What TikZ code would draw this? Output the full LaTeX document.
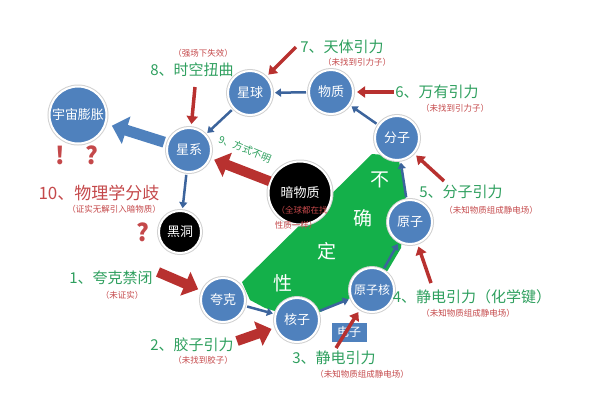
\documentclass[tikz,border=0pt]{standalone}
\usepackage{fontspec}
\setmainfont{Noto Sans CJK SC}
\usetikzlibrary{arrows.meta}
\definecolor{ballblue}{HTML}{4F81BD}
\definecolor{linkblue}{HTML}{3C649C}
\definecolor{arrowred}{HTML}{B8312F}
\definecolor{notered}{HTML}{C4484A}
\definecolor{taggreen}{HTML}{2E9F5E}
\definecolor{fieldgreen}{HTML}{14B04A}
\newcommand{\setfs}[1]{\fontsize{#1}{#1}\selectfont}

\begin{document}
\begin{tikzpicture}[x=1pt, y=-1pt,
        ball/.style={circle, fill=ballblue, draw=white, line width=2pt, preaction={draw=black!18, line width=4pt}, text=white, minimum size=44pt, inner sep=0pt, font=\setfs{13}},
        darkball/.style={ball, fill=black},
        tag/.style={text=taggreen, font=\setfs{15}, inner sep=0pt},
        note/.style={text=notered, font=\setfs{8.5}, inner sep=0pt},
        fieldtext/.style={text=white, font=\setfs{19}, inner sep=0pt},
        bluelink/.style={draw=linkblue, line width=2.5pt, -{Triangle[length=6pt,width=8pt]}, shorten >=2pt, shorten <=2pt},
        redlink/.style={draw=arrowred, line width=3.5pt, -{Triangle[length=8pt,width=11pt]}, shorten >=3pt},
        fatred/.style={draw=arrowred, line width=10pt, -{Triangle[length=14pt,width=25pt]}, shorten >=4pt},
        fatblue/.style={draw=ballblue, line width=11pt, -{Triangle[length=15pt,width=28pt]}, shorten >=6pt, shorten <=3pt}]
        \useasboundingbox (0,0) rectangle (600,400);
        \fill[fieldgreen] (242,282) -- (372,154) -- (398,156) -- (406,195) -- (401,248) -- (388,270) -- (372,290) -- (340,302) -- (320,312) -- (297,318) -- (265,308) -- (250,300) -- cycle;
        \node[fieldtext] (bu) at (380,180) {不};
        \node[fieldtext] (que) at (363,218) {确};
        \node[fieldtext] (ding) at (327,251) {定};
        \node[fieldtext] (xing) at (283,283) {性};

        \node[ball, minimum size=57pt] (yuzhou) at (78,115) {宇宙膨胀};
        \node[ball] (xingqiu) at (250,93) {星球};
        \node[ball] (wuzhi) at (331,92) {物质};
        \node[ball] (fenzi) at (397,138) {分子};
        \node[ball] (xingxi) at (189,150) {星系};
        \node[ball] (yuanzi) at (410,222) {原子};
        \node[ball, font=\setfs{12}] (yuanzihe) at (372,290) {原子核};
        \node[ball] (hezi) at (297,320) {核子};
        \node[ball] (kuake) at (223,300) {夸克};
        \node[darkball, minimum size=63pt] (anwu) at (300,193) {暗物质};
        \node[darkball, minimum size=42pt] (heidong) at (180,232) {黑洞};
        \node[fill=ballblue, text=white, minimum width=35pt, minimum height=19pt, inner sep=0pt, font=\setfs{12}] (dianzi) at (349,332) {电子};

        \draw[bluelink] (wuzhi) -- (xingqiu);
        \draw[bluelink] (fenzi) -- (wuzhi);
        \draw[bluelink] (yuanzi) -- (fenzi);
        \draw[bluelink] (yuanzihe) -- (yuanzi);
        \draw[bluelink] (hezi) -- (yuanzihe);
        \draw[bluelink] (kuake) -- (hezi);
        \draw[bluelink] (xingqiu) -- (xingxi);
        \draw[bluelink] (xingxi) -- (heidong);
        \draw[fatblue] (xingxi) -- (yuzhou);

        \coordinate (from1) at (158,272);
        \coordinate (from2) at (237,341);
        \coordinate (from3) at (336,348);
        \coordinate (from4) at (431,283);
        \coordinate (from5) at (444,181);
        \coordinate (from6) at (394,92);
        \coordinate (from7) at (296,47);
        \coordinate (from8) at (195,87);
        \draw[fatred] (from1) -- (kuake);
        \draw[fatred] (from2) -- (hezi);
        \draw[redlink] (from3) -- (yuanzihe);
        \draw[redlink] (from4) -- (yuanzi);
        \draw[redlink] (from5) -- (fenzi);
        \draw[redlink] (from6) -- (wuzhi);
        \draw[redlink] (from7) -- (xingqiu);
        \draw[redlink] (from8) -- (xingxi);
        \draw[fatred] (anwu) -- (xingxi);

        \node[tag] (t1) at (111,278) {1、夸克禁闭};
        \node[note] (n1) at (122,295) {（未证实）};
        \node[tag] (t2) at (192,345) {2、胶子引力};
        \node[note] (n2) at (203,360) {（未找到胶子）};
        \node[tag] (t3) at (334,358) {3、静电引力};
        \node[note] (n3) at (362,374) {（未知物质组成静电场）};
        \node[tag] (t4) at (472,297) {4、静电引力（化学键）};
        \node[note] (n4) at (468,313) {（未知物质组成静电场）};
        \node[tag] (t5) at (461,192) {5、分子引力};
        \node[note] (n5) at (491,210) {（未知物质组成静电场）};
        \node[tag] (t6) at (437,92) {6、万有引力};
        \node[note] (n6) at (455,108) {（未找到引力子）};
        \node[tag] (t7) at (342,47) {7、天体引力};
        \node[note] (n7) at (357,62) {（未找到引力子）};
        \node[tag] (t8) at (192,70) {8、时空扭曲};
        \node[note] (n8) at (203,53) {（强场下失效）};
        \node[tag, font=\setfs{10}, rotate=-22] (t9) at (245,149) {9、方式不明};
        \node[note, font=\setfs{17}] (t10) at (99,193) {10、物理学分歧};
        \node[note] (n10) at (114,209) {（证实无解引入暗物质）};
        \node[note] (n11) at (302,210) {（全球都在找};
        \node[note] (n12) at (296,225) {性质一样）};

        \node[note, font=\bfseries\setfs{24}] (bang) at (60,155) {!};
        \node[note, font=\bfseries\setfs{24}] (ask1) at (92,155) {?};
        \node[note, font=\bfseries\setfs{24}] (ask2) at (143,232) {?};
    \end{tikzpicture}
\end{document}
